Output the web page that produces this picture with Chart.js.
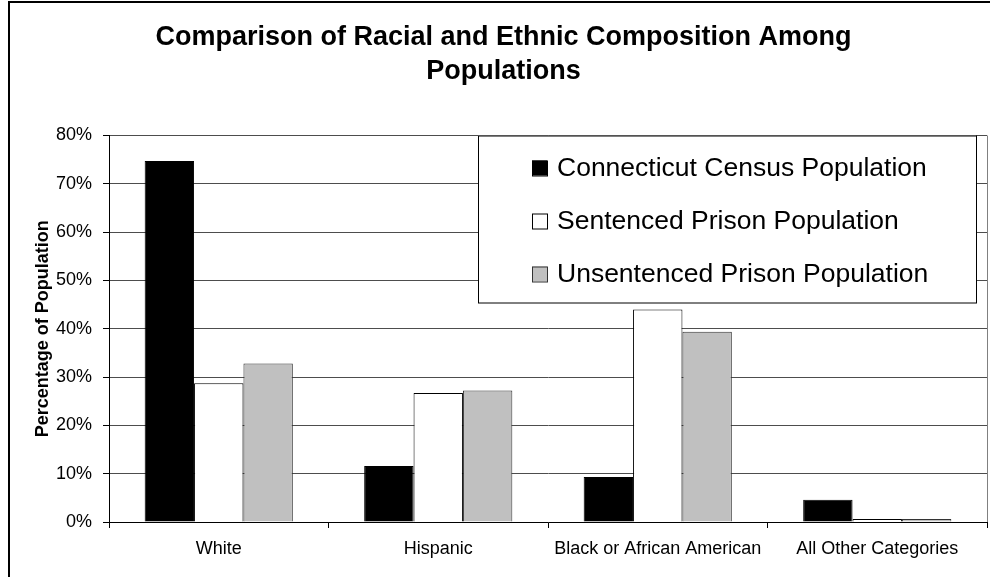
<!DOCTYPE html>
<html lang="en">

<head>
  <meta charset="UTF-8">
  <title>Racial and Ethnic Composition</title>
  <script src="https://cdn.jsdelivr.net/npm/chart.js"></script>
  <style>
    body { margin: 0; background: #fff; }
    #wrap { width: 990px; height: 577px; }
  </style>
</head>

<body>
  <div id="wrap">
    <canvas id="grafico" width="990" height="577"></canvas>
  </div>

  <script>
    const categorias = ['White', 'Hispanic', 'Black or African American', 'All Other Categories'];
    const censo = [74.7, 11.6, 9.3, 4.6];
    const sentenciados = [28.7, 26.7, 44.0, 0.6];
    const naoSentenciados = [32.8, 27.2, 39.4, 0.6];
    const rotulos = ['Connecticut Census Population', 'Sentenced Prison Population', 'Unsentenced Prison Population'];

    const fonte = "'Liberation Sans', Arial, sans-serif";

    // moldura externa e borda direita da area do grafico
    const moldura = {
      id: 'moldura',
      beforeDraw: (chart) => {
        const ctx = chart.ctx;
        ctx.save();
        ctx.fillStyle = '#fff';
        ctx.fillRect(0, 0, chart.width, chart.height);
        ctx.strokeStyle = '#000';
        ctx.lineWidth = 2;
        ctx.strokeRect(9, 2, chart.width + 20, chart.height + 20);
        ctx.restore();
      },
      afterDatasetsDraw: (chart) => {
        const a = chart.chartArea;
        const ctx = chart.ctx;
        ctx.save();
        ctx.strokeStyle = '#808080';
        ctx.lineWidth = 1;
        ctx.beginPath();
        ctx.moveTo(a.right + 0.5, a.top);
        ctx.lineTo(a.right + 0.5, a.bottom);
        ctx.stroke();
        ctx.restore();
      }
    };

    // legenda em caixa dentro da area do grafico
    const legendaCaixa = {
      id: 'legendaCaixa',
      afterDraw: (chart) => {
        const a = chart.chartArea;
        const ctx = chart.ctx;
        const w = 498, h = 167;
        const x = a.right - 11 - w;
        const y = a.top;
        ctx.save();
        ctx.fillStyle = '#fff';
        ctx.fillRect(x, y, w, h);
        ctx.strokeStyle = '#000';
        ctx.lineWidth = 1;
        ctx.strokeRect(x + 0.5, y + 0.5, w, h);
        ctx.font = '26.5px ' + fonte;
        ctx.textBaseline = 'middle';
        chart.data.datasets.forEach((ds, i) => {
          const cy = y + 32 + i * 53;
          ctx.fillStyle = ds.backgroundColor;
          ctx.fillRect(x + 54, cy - 7, 15, 15);
          ctx.strokeStyle = ds.borderColor;
          ctx.strokeRect(x + 54.5, cy - 6.5, 15, 15);
          ctx.fillStyle = '#000';
          ctx.fillText(ds.label, x + 79, cy + 1);
        });
        ctx.restore();
      }
    };

    new Chart(document.getElementById('grafico'), {
      type: 'bar',
      data: {
        labels: categorias,
        datasets: [{
          label: rotulos[0],
          data: censo,
          backgroundColor: '#000000',
          borderColor: '#000000',
          borderWidth: 1
        }, {
          label: rotulos[1],
          data: sentenciados,
          backgroundColor: '#ffffff',
          borderColor: '#000000',
          borderWidth: 1
        }, {
          label: rotulos[2],
          data: naoSentenciados,
          backgroundColor: '#c0c0c0',
          borderColor: '#333333',
          borderWidth: 1
        }]
      },
      options: {
        responsive: false,
        animation: false,
        layout: { padding: { left: 20, right: 3, top: 0, bottom: 0 } },
        datasets: {
          bar: { barPercentage: 1, categoryPercentage: 0.675 }
        },
        scales: {
          x: {
            grid: {
              offset: true,
              drawOnChartArea: false,
              tickLength: 6,
              tickColor: '#000'
            },
            border: { color: '#000', width: 1 },
            ticks: {
              color: '#000',
              padding: 10,
              maxRotation: 0,
              autoSkip: false,
              font: { family: fonte, size: 18 }
            },
            afterFit: (scale) => { scale.height = 55; }
          },
          y: {
            min: 0,
            max: 80,
            grid: {
              color: '#4d4d4d',
              tickLength: 6,
              tickColor: '#000'
            },
            border: { color: '#000', width: 1 },
            ticks: {
              stepSize: 10,
              color: '#000',
              padding: 11,
              font: { family: fonte, size: 18 },
              callback: (v) => v + '%'
            },
            title: {
              display: true,
              text: 'Percentage of Population',
              color: '#000',
              padding: { top: 12, bottom: 0 },
              font: { family: fonte, size: 18, weight: 'bold' }
            },
            afterFit: (scale) => { scale.width = 89; }
          }
        },
        plugins: {
          legend: { display: false },
          tooltip: { enabled: false },
          title: {
            display: true,
            text: ['Comparison of Racial and Ethnic Composition Among', 'Populations'],
            color: '#000',
            padding: { top: 21, bottom: 47 },
            font: { family: fonte, size: 27, weight: 'bold', lineHeight: 1.25 }
          }
        }
      },
      plugins: [moldura, legendaCaixa]
    });
  </script>
</body>

</html>
